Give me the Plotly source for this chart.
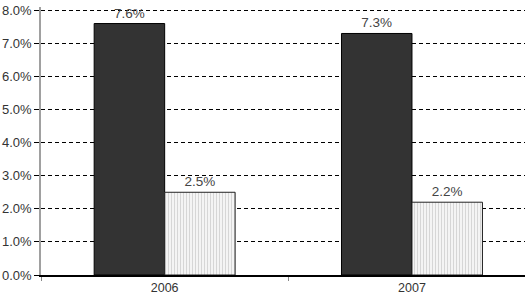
import plotly.graph_objects as go

years = ["2006", "2007"]
series_a = [7.6, 7.3]
series_b = [2.5, 2.2]
labels_a = ["7.6%", "7.3%"]
labels_b = ["2.5%", "2.2%"]
y_ticks = [0, 1, 2, 3, 4, 5, 6, 7, 8]
y_tick_text = ["0.0%", "1.0%", "2.0%", "3.0%", "4.0%", "5.0%", "6.0%", "7.0%", "8.0%"]

fig = go.Figure()
fig.add_bar(
    x=years, y=series_a, text=labels_a, textposition="outside",
    marker=dict(color="#333333", line=dict(color="#000000", width=1)),
    textfont=dict(family="Liberation Sans, Arial", size=13.5, color="#444444"),
    cliponaxis=False, showlegend=False,
)
fig.add_bar(
    x=years, y=series_b, text=labels_b, textposition="outside",
    marker=dict(color="#f4f4f4", line=dict(color="#222222", width=1),
                pattern=dict(shape="|", fgcolor="#b8b8b8", bgcolor="#f4f4f4",
                             size=3, solidity=0.35)),
    textfont=dict(family="Liberation Sans, Arial", size=13.5, color="#444444"),
    cliponaxis=False, showlegend=False,
)

fig.update_layout(
    width=527, height=299,
    margin=dict(l=41, r=2, t=7, b=24),
    paper_bgcolor="white", plot_bgcolor="white",
    barmode="group", bargap=0.43, bargroupgap=0,
    font=dict(family="Liberation Sans, Arial", size=12, color="#333333"),
)
fig.update_xaxes(
    range=[-0.5, 1.457], showline=True, linecolor="#000000", linewidth=1.5,
    ticks="outside", tickson="boundaries", ticklen=4, tickcolor="#888888",
    showgrid=False, tickfont=dict(size=12.5, color="#333333"),
)
fig.update_yaxes(
    range=[0, 8.1], tickvals=y_ticks, ticktext=y_tick_text,
    showline=True, linecolor="#a0a0a0", linewidth=1.5,
    ticks="outside", ticklen=5, tickcolor="#000000",
    showgrid=True, gridcolor="#000000", gridwidth=1, griddash="4px,3px",
    zeroline=False, tickfont=dict(size=13, color="#333333"),
)

fig.write_html("out.html")
